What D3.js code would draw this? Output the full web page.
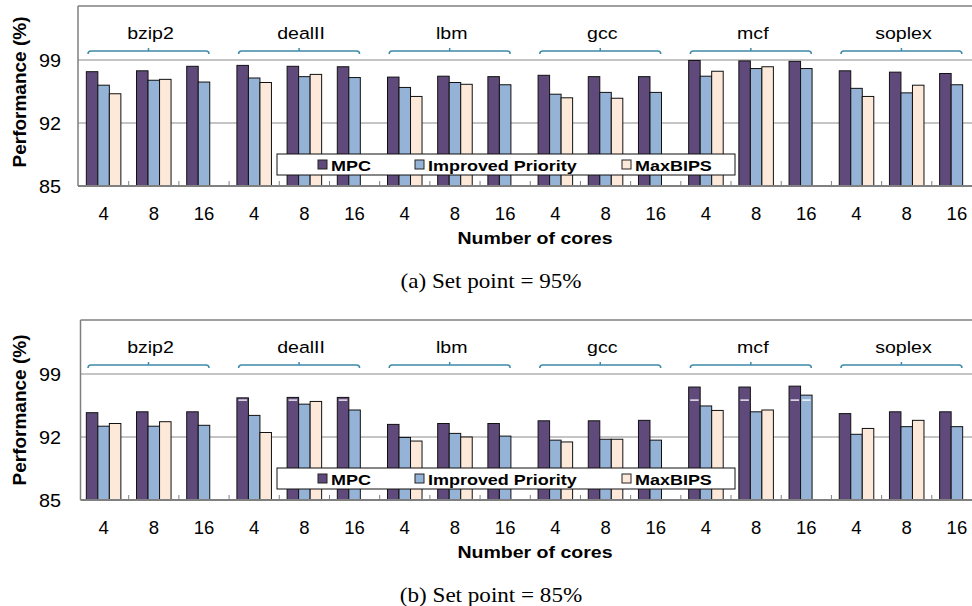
<!DOCTYPE html>
<html>
<head>
<meta charset="utf-8">
<script src="https://cdn.jsdelivr.net/npm/d3@7"></script>
<style>
  body { margin: 0; background: #fff; }
  svg { display: block; }
  text { font-family: "Liberation Sans", Arial, sans-serif; fill: #000; }
  .caption { font-family: "Liberation Serif", "Times New Roman", serif; }
</style>
</head>
<body>
<div id="vis"></div>
<script>
const benchmarks = ['bzip2', 'dealII', 'lbm', 'gcc', 'mcf', 'soplex']
const coreCounts = ['4', '8', '16']
const seriesNames = ['MPC', 'Improved Priority', 'MaxBIPS']
const seriesColors = ['#604a7b', '#95b3d7', '#fde9d9']
const yTicks = [85, 92, 99]

// values per benchmark x core count (bzip2 4,8,16, dealII 4,8,16, ...)
// set point 95%
const mpc95 = [97.7, 97.8, 98.3, 98.4, 98.3, 98.25, 97.1, 97.2, 97.15, 97.3, 97.15, 97.15, 98.95, 98.9, 98.85, 97.8, 97.65, 97.5]
const prio95 = [96.2, 96.75, 96.55, 97.0, 97.15, 97.05, 95.95, 96.5, 96.25, 95.2, 95.4, 95.4, 97.2, 98.05, 98.05, 95.85, 95.35, 96.25]
const maxbips95 = [95.25, 96.85, null, 96.5, 97.4, null, 94.95, 96.3, null, 94.8, 94.75, null, 97.75, 98.25, null, 94.95, 96.2, null]
// set point 85%
const mpc85 = [94.7, 94.8, 94.8, 96.35, 96.4, 96.4, 93.4, 93.5, 93.5, 93.8, 93.8, 93.85, 97.55, 97.55, 97.65, 94.6, 94.8, 94.8]
const prio85 = [93.2, 93.2, 93.3, 94.4, 95.65, 95.0, 91.95, 92.4, 92.1, 91.65, 91.75, 91.65, 95.45, 94.8, 96.65, 92.3, 93.15, 93.15]
const maxbips85 = [93.5, 93.7, null, 92.5, 95.95, null, 91.55, 92.0, null, 91.45, 91.75, null, 94.95, 95.0, null, 92.95, 93.85, null]
const whiteMark85 = 96.1

const panels = [
  { series: [mpc95, prio95, maxbips95], caption: '(a) Set point = 95%', dy: 0, left: 78, titleY: 92, mark: null },
  { series: [mpc85, prio85, maxbips85], caption: '(b) Set point = 85%', dy: 314, left: 80.5, titleY: 410, mark: whiteMark85 }
]

const W = 972, H = 606
const plotRight = 982, plotTop = 6, plotBottom = 186

const svg = d3.select('#vis').append('svg')
  .attr('width', W)
  .attr('height', H)

const cats = []
benchmarks.forEach(b => coreCounts.forEach(c => cats.push(b + '|' + c)))

// text that is a bit wider than the font's normal shape, like the original
function addText(parent, o) {
  return parent.append('text')
    .attr('class', o.cls || null)
    .attr('transform', `translate(${o.x},${o.y}) scale(${o.sx || 1},1)`)
    .attr('text-anchor', o.anchor || 'start')
    .style('font-size', o.size + 'px')
    .style('font-weight', o.bold ? 'bold' : null)
    .text(o.text)
}

panels.forEach(p => drawPanel(p))

function drawPanel(p) {
  const g = svg.append('g').attr('transform', `translate(0,${p.dy})`)

  const x = d3.scaleBand().domain(cats).range([78.5, plotRight]).paddingInner(0).paddingOuter(0)
  const bw = x.bandwidth()
  const x1 = d3.scaleBand().domain(seriesNames).range([0, bw]).paddingInner(0).paddingOuter(0.68)
  const y = d3.scaleLinear().domain([85, 105]).range([plotBottom, plotTop])

  // gridlines
  g.selectAll('.grid').data(yTicks.slice(1)).enter().append('line')
    .attr('x1', p.left).attr('x2', W)
    .attr('y1', d => y(d)).attr('y2', d => y(d))
    .attr('stroke', '#8a8a8a').attr('stroke-width', 1)

  // frame top + left
  g.append('line').attr('x1', p.left).attr('x2', W).attr('y1', plotTop).attr('y2', plotTop)
    .attr('stroke', '#7f7f7f').attr('stroke-width', 1.5)
  g.append('line').attr('x1', p.left).attr('x2', p.left).attr('y1', plotTop).attr('y2', plotBottom)
    .attr('stroke', '#7f7f7f').attr('stroke-width', 1.5)

  // bars
  const rows = []
  cats.forEach((c, i) => {
    seriesNames.forEach((s, k) => {
      const v = p.series[k][i]
      if (v != null) rows.push({ cat: c, s: s, k: k, v: v })
    })
  })

  g.selectAll('.bar').data(rows).enter().append('rect')
    .attr('x', d => x(d.cat) + x1(d.s))
    .attr('y', d => y(d.v))
    .attr('width', x1.bandwidth())
    .attr('height', d => y(85) - y(d.v))
    .attr('fill', d => seriesColors[d.k])
    .attr('stroke', '#111')
    .attr('stroke-width', 1)

  if (p.mark != null) {
    g.selectAll('.mark').data(rows.filter(d => d.v > p.mark + 0.15)).enter().append('line')
      .attr('x1', d => x(d.cat) + x1(d.s) + 1.5)
      .attr('x2', d => x(d.cat) + x1(d.s) + x1.bandwidth() - 1.5)
      .attr('y1', y(p.mark)).attr('y2', y(p.mark))
      .attr('stroke', '#fff').attr('stroke-width', 1.3)
  }

  // x axis line and inside ticks at category boundaries
  g.append('line').attr('x1', p.left).attr('x2', W).attr('y1', plotBottom).attr('y2', plotBottom)
    .attr('stroke', '#808080').attr('stroke-width', 2)
  g.selectAll('.tk').data(cats.slice(1)).enter().append('line')
    .attr('x1', d => x(d)).attr('x2', d => x(d))
    .attr('y1', plotBottom).attr('y2', plotBottom - 5)
    .attr('stroke', '#808080').attr('stroke-width', 1)

  // x tick labels
  cats.forEach(c => addText(g, { x: x(c) + bw / 2, y: 220, text: c.split('|')[1], size: 18.5, anchor: 'middle' }))

  // y tick labels
  yTicks.forEach(t => addText(g, { x: 61, y: y(t) + 6.5, text: t, size: 18, sx: 1.1, anchor: 'end' }))

  // y title
  g.append('text')
    .attr('transform', `translate(26,${p.titleY - p.dy}) rotate(-90)`)
    .attr('text-anchor', 'middle')
    .style('font-size', '19px').style('font-weight', 'bold')
    .text('Performance (%)')

  // x title
  addText(g, { x: 535, y: 244, text: 'Number of cores', size: 17, sx: 1.15, bold: true, anchor: 'middle' })

  // caption
  addText(g, { x: 491, y: 288, text: p.caption, size: 21, sx: 1.1, anchor: 'middle', cls: 'caption' })

  // benchmark brackets
  const bracketColor = '#3d8ba8'
  benchmarks.forEach(b => {
    const x0 = x(b + '|' + coreCounts[0]) + 9.5
    const x2 = x0 + 121
    const xc = (x0 + x2) / 2
    const by = 51
    const path = d3.path()
    path.moveTo(x0, by + 3)
    path.quadraticCurveTo(x0, by, x0 + 3, by)
    path.lineTo(x2 - 3, by)
    path.quadraticCurveTo(x2, by, x2, by + 3)
    path.moveTo(xc, by)
    path.lineTo(xc, by - 3)
    g.append('path').attr('d', path.toString())
      .attr('fill', 'none').attr('stroke', bracketColor).attr('stroke-width', 1.5)
    addText(g, { x: xc + 2, y: 39, text: b, size: 17, sx: 1.15, anchor: 'middle' })
  })

  // legend
  const lg = g.append('g').attr('transform', 'translate(277,154)')
  lg.append('rect').attr('width', 458).attr('height', 21)
    .attr('fill', '#fff').attr('stroke', '#111').attr('stroke-width', 1)
  const legendX = [41, 138, 345]
  seriesNames.forEach((s, k) => {
    lg.append('rect').attr('x', legendX[k]).attr('y', 6).attr('width', 9).attr('height', 9)
      .attr('fill', seriesColors[k]).attr('stroke', '#222').attr('stroke-width', 1)
    addText(lg, { x: legendX[k] + 13, y: 16.5, text: s, size: 15.5, sx: 1.16, bold: true })
  })
}
</script>
</body>
</html>
